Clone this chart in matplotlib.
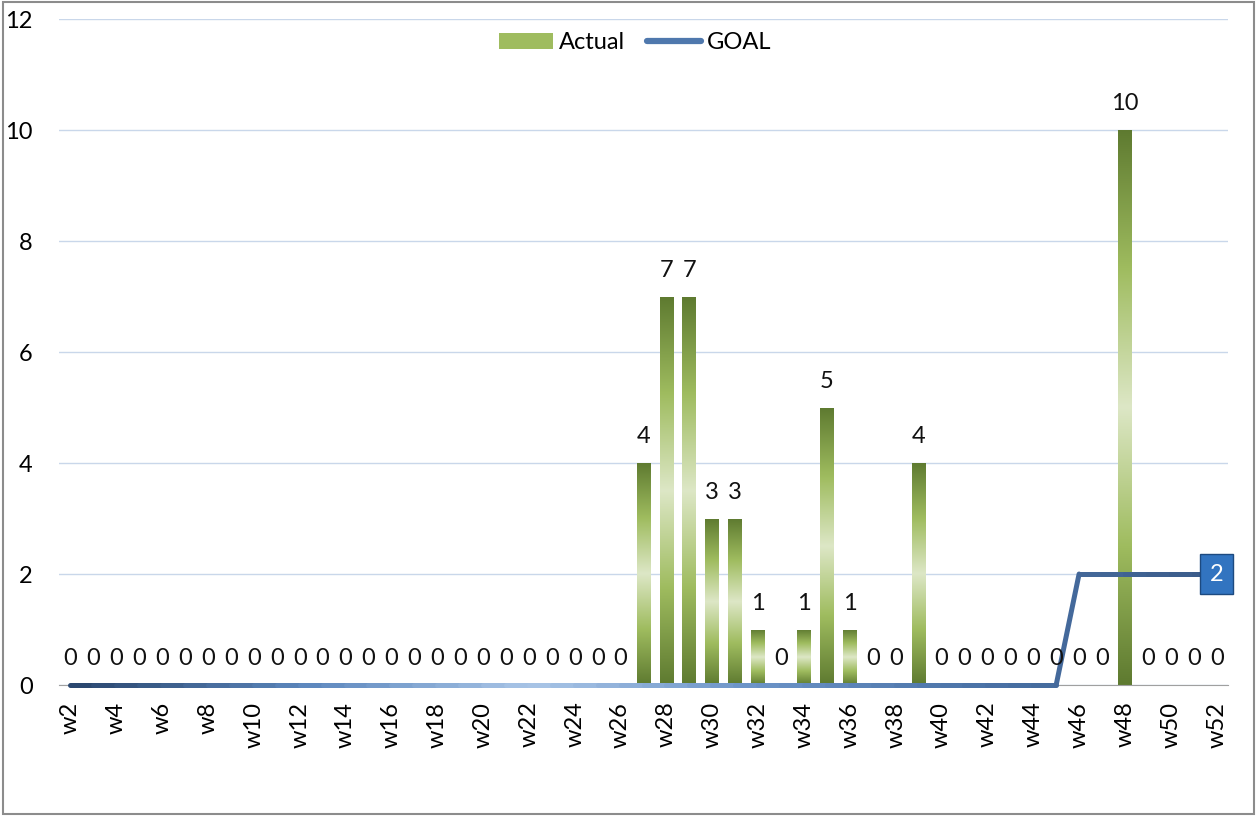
import numpy as np
import matplotlib
matplotlib.use('Agg')
import matplotlib.pyplot as plt
from matplotlib.colors import LinearSegmentedColormap
from matplotlib.collections import LineCollection
from matplotlib.patches import Rectangle
from matplotlib.lines import Line2D

plt.rcParams['font.family'] = ['Lato', 'DejaVu Sans']
FS = 17

weeks = ['w%d' % i for i in range(2, 53)]
actual = [0] * 25 + [4, 7, 7, 3, 3, 1, 0, 1, 5, 1, 0, 0, 4] + [0] * 8 + [10, 0, 0, 0, 0]
goal = [0] * 44 + [2] * 7

bar_cmap = LinearSegmentedColormap.from_list(
    'bar', ['#5e7a30', '#9fbc5f', '#dde7c6', '#9fbc5f', '#5e7a30'])
line_cmap = LinearSegmentedColormap.from_list(
    'goal', ['#2b4870', '#5c87bd', '#a9c5e6', '#6b93c7', '#4a72a6', '#3b5c8a'])

fig = plt.figure(figsize=(12.57, 8.16), dpi=100)
ax = fig.add_axes([0.0469, 0.1605, 0.9301, 0.8162])

x = np.arange(len(weeks))
width = 0.6

# gradient bars: draw an image and clip it to each bar
grad = np.linspace(0, 1, 256).reshape(-1, 1)
bars = ax.bar(x, actual, width=width, color='none', edgecolor='none', zorder=2)
for b, v in zip(bars, actual):
    if v == 0:
        continue
    x0 = b.get_x()
    im = ax.imshow(grad, cmap=bar_cmap, aspect='auto', origin='lower',
                   extent=(x0, x0 + width, 0, v), zorder=2)
    im.set_clip_path(b)

for xi, v in zip(x, actual):
    ax.text(xi, v + 0.28, str(v), ha='center', va='bottom', fontsize=FS, color='#111111', zorder=4)

# goal line with a colour sweep along x
pts = np.column_stack([x, goal])
segs = np.stack([pts[:-1], pts[1:]], axis=1)
lc = LineCollection(segs, cmap=line_cmap, linewidths=3.6, capstyle='round', zorder=3)
lc.set_array(x[:-1] / (len(x) - 1))
lc.set_clip_on(False)
ax.add_collection(lc)

ax.text(x[-1], goal[-1], str(goal[-1]), ha='center', va='center', fontsize=FS, color='white',
        zorder=5,
        bbox=dict(boxstyle='square,pad=0.4', fc='#3274c0', ec='#1d4a80', lw=1))

ax.set_xlim(-0.5, len(weeks) - 0.5)
ax.set_ylim(0, 12)
ax.set_yticks(range(0, 13, 2))
ax.set_xticks(x[::2])
ax.set_xticklabels(weeks[::2], rotation=90, fontsize=FS)
ax.tick_params(axis='y', length=0, pad=19, labelsize=FS)
ax.tick_params(axis='x', length=0, pad=12)
ax.grid(axis='y', color='#c9d7ea', lw=1, zorder=0)
ax.set_axisbelow(True)
for s in ['top', 'right', 'left']:
    ax.spines[s].set_visible(False)
ax.spines['bottom'].set_color('#a0a0a0')

handles = [Rectangle((0, 0), 1, 1, fc='#9fbc5f', ec='none'),
           Line2D([0], [0], color='#4f78ad', lw=4.5, solid_capstyle='round')]
ax.legend(handles, ['Actual', 'GOAL'], loc='upper center', bbox_to_anchor=(0.493, 1.012),
          ncol=2, frameon=False, fontsize=FS, handlelength=2.3, handleheight=0.7,
          handletextpad=0.25, columnspacing=0.9)

fig.patches.append(Rectangle((0.002, 0.002), 0.996, 0.996, transform=fig.transFigure,
                             fill=False, ec='#8c8c8c', lw=1.5))

fig.savefig('out.png', dpi=100)
